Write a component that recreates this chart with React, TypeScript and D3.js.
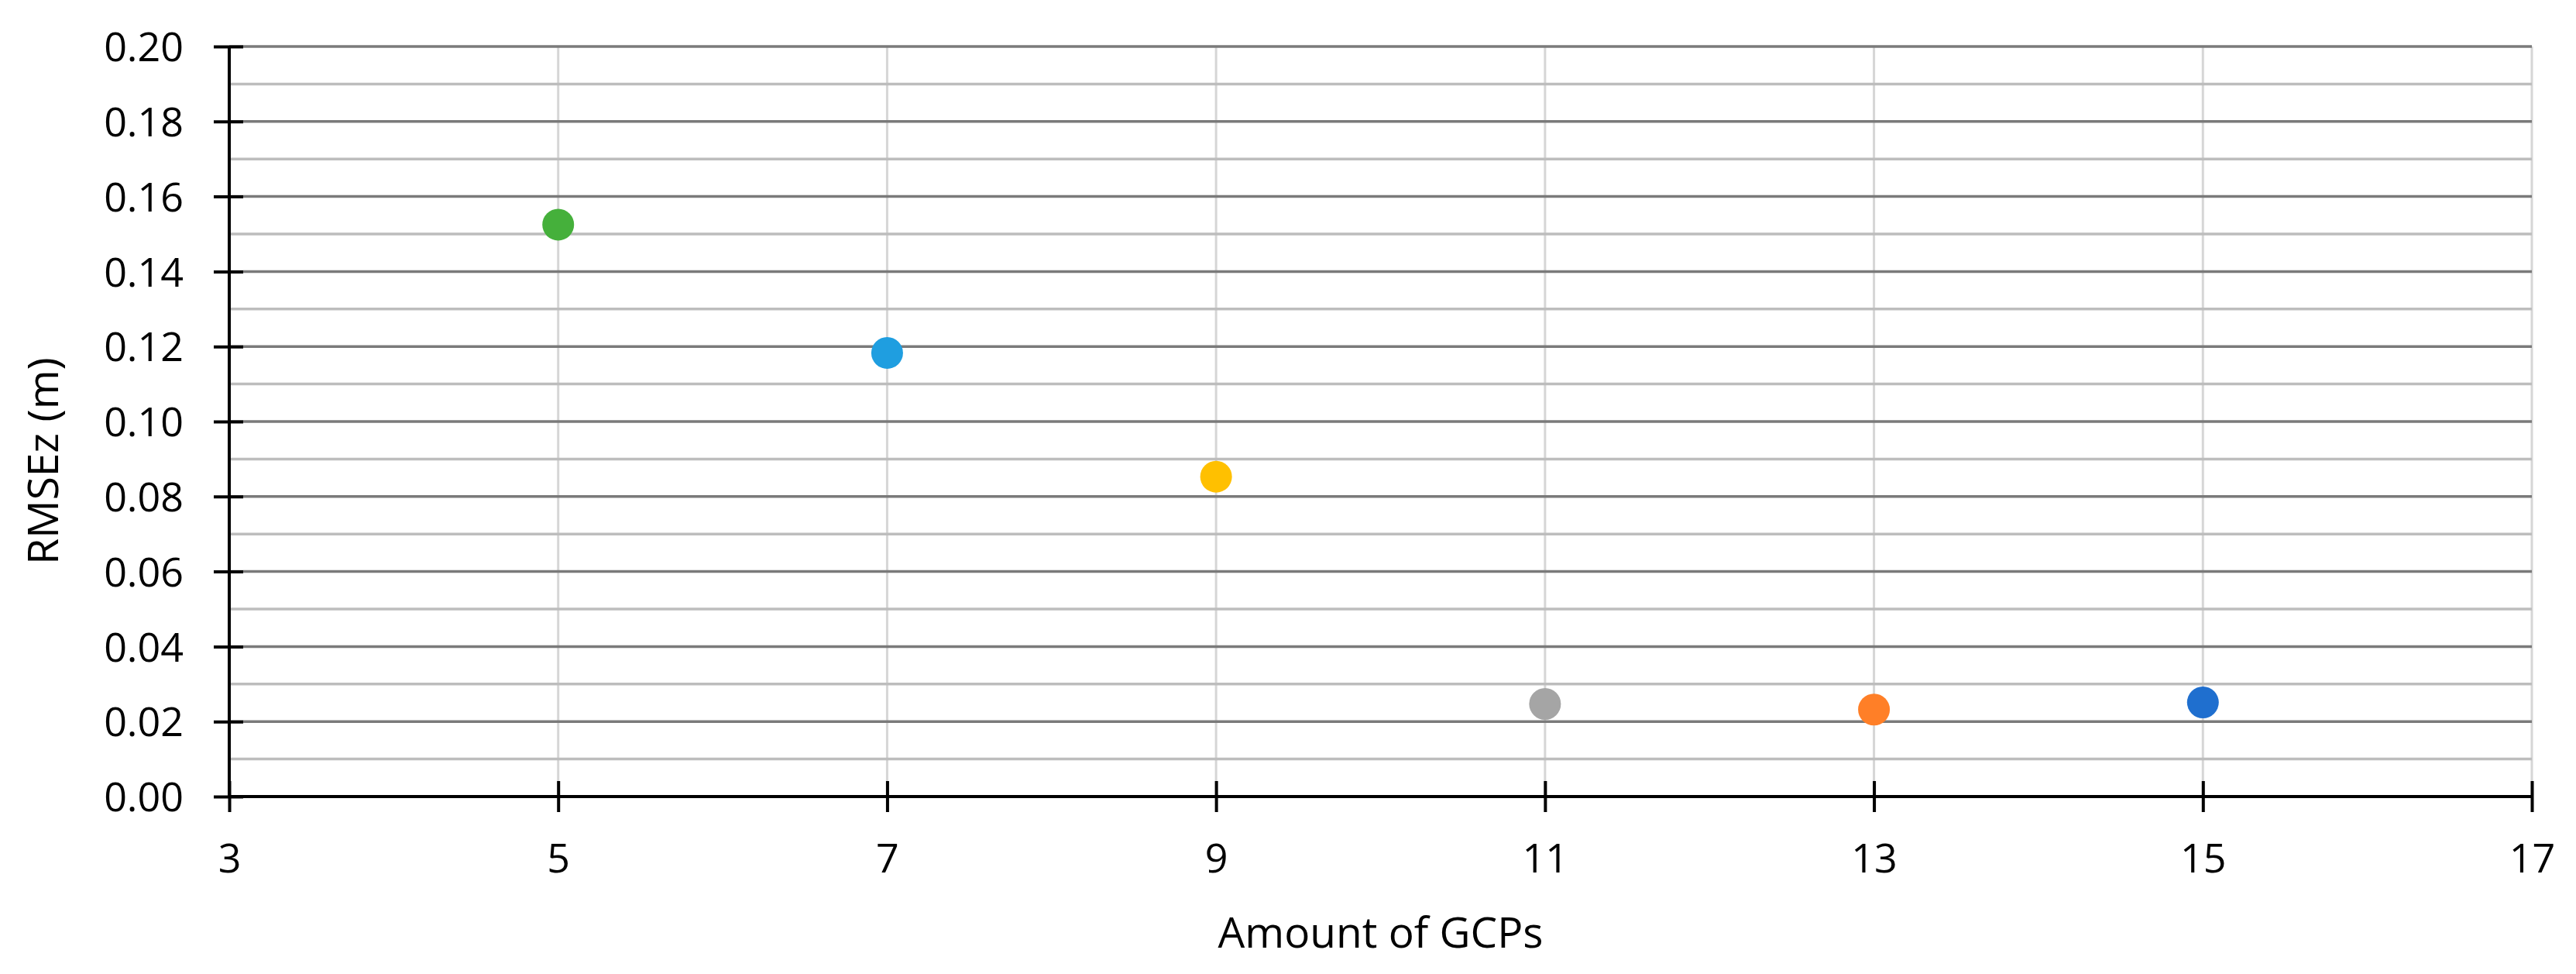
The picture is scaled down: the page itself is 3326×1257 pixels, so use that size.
import { useEffect, useRef } from 'react';
import * as d3 from 'd3';

// GCP counts and the RMSEz measured for each
const gcpCounts = [5, 7, 9, 11, 13, 15];
const rmseZ = [0.1525, 0.1183, 0.0853, 0.0247, 0.0232, 0.0251];
const pointColors = ['#45b03b', '#1f9ee0', '#ffc000', '#a5a5a5', '#ff7f27', '#1f6fcf'];

const xTicks = [3, 5, 7, 9, 11, 13, 15, 17];
const yMajorTicks = [0, 0.02, 0.04, 0.06, 0.08, 0.1, 0.12, 0.14, 0.16, 0.18, 0.2];
const yMinorTicks = [0.01, 0.03, 0.05, 0.07, 0.09, 0.11, 0.13, 0.15, 0.17, 0.19];

const W = 3326;
const H = 1257;
const FONT = '"Open Sans", "DejaVu Sans", sans-serif';

export default function App() {
  const svgRef = useRef<SVGSVGElement>(null);

  useEffect(() => {
    if (!svgRef.current) return;
    const margin = { top: 60, right: 57, bottom: 229, left: 296 };
    const w = W - margin.left - margin.right;
    const h = H - margin.top - margin.bottom;

    d3.select(svgRef.current).selectAll('*').remove();

    const svg = d3
      .select(svgRef.current)
      .attr('width', W)
      .attr('height', H)
      .append('g')
      .attr('transform', `translate(${margin.left},${margin.top})`);

    const x = d3.scaleLinear().domain([3, 17]).range([0, w]);
    const y = d3.scaleLinear().domain([0, 0.2]).range([h, 0]);

    // vertical grid
    svg
      .selectAll('.vgrid')
      .data(xTicks.slice(1))
      .enter()
      .append('line')
      .attr('x1', (d) => x(d))
      .attr('x2', (d) => x(d))
      .attr('y1', 0)
      .attr('y2', h)
      .attr('stroke', '#d6d6d6')
      .attr('stroke-width', 3);

    // minor horizontal grid
    svg
      .selectAll('.minor')
      .data(yMinorTicks)
      .enter()
      .append('line')
      .attr('x1', 0)
      .attr('x2', w)
      .attr('y1', (d) => y(d))
      .attr('y2', (d) => y(d))
      .attr('stroke', '#bdbdbd')
      .attr('stroke-width', 3.5);

    // major horizontal grid
    svg
      .selectAll('.major')
      .data(yMajorTicks.slice(1))
      .enter()
      .append('line')
      .attr('x1', 0)
      .attr('x2', w)
      .attr('y1', (d) => y(d))
      .attr('y2', (d) => y(d))
      .attr('stroke', '#7a7a7a')
      .attr('stroke-width', 3.5);

    // axes
    const xAxis = svg
      .append('g')
      .attr('transform', `translate(0,${h})`)
      .call(d3.axisBottom(x).tickValues(xTicks).tickFormat(d3.format('d')).tickSize(20).tickPadding(0));
    xAxis.selectAll('.tick line').attr('y1', -20).attr('y2', 20);
    xAxis
      .selectAll('text')
      .attr('y', 79)
      .attr('dy', '0.36em')
      .attr('fill', '#000')
      .style('font-family', FONT)
      .style('font-size', '52px');

    const yAxis = svg
      .append('g')
      .call(d3.axisLeft(y).tickValues(yMajorTicks).tickFormat(d3.format('.2f')).tickSize(20).tickPadding(0));
    yAxis.selectAll('.tick line').attr('x1', 18).attr('x2', -20);
    yAxis
      .selectAll('text')
      .attr('x', -59)
      .attr('dy', '0.36em')
      .attr('fill', '#000')
      .style('font-family', FONT)
      .style('font-size', '52px');

    svg.selectAll('.domain').attr('stroke', '#000').attr('stroke-width', 4);
    svg.selectAll('.tick line').attr('stroke', '#000').attr('stroke-width', 4);
    // plain axis lines, no end caps from d3's path
    xAxis.select('.domain').attr('d', `M0,0H${w}`);
    yAxis.select('.domain').attr('d', `M0,${h}V0`);

    // points
    svg
      .selectAll('.pt')
      .data(gcpCounts.map((g, i) => ({ g, v: rmseZ[i], c: pointColors[i] })))
      .enter()
      .append('circle')
      .attr('cx', (d) => x(d.g))
      .attr('cy', (d) => y(d.v))
      .attr('r', 20.5)
      .attr('fill', (d) => d.c);

    // axis titles
    svg
      .append('text')
      .attr('x', w / 2)
      .attr('y', h + 195)
      .attr('text-anchor', 'middle')
      .attr('fill', '#000')
      .style('font-family', FONT)
      .style('font-size', '55px')
      .text('Amount of GCPs');

    svg
      .append('text')
      .attr('transform', `translate(${75 - margin.left},${595 - margin.top}) rotate(-90)`)
      .attr('text-anchor', 'middle')
      .attr('fill', '#000')
      .style('font-family', FONT)
      .style('font-size', '55px')
      .text('RMSEz (m)');
  }, []);

  return (
    <div style={{ position: 'absolute', left: 0, top: 0, width: W, height: H, background: '#fff' }}>
      <svg ref={svgRef} style={{ display: 'block' }} />
    </div>
  );
}
